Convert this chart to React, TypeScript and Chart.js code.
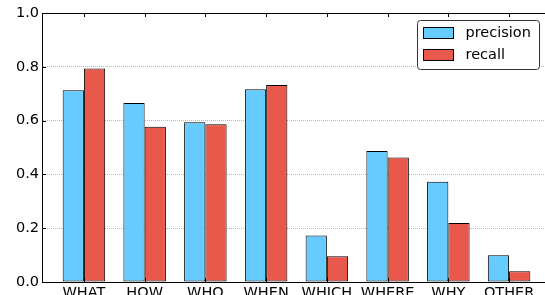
import React, { useEffect, useRef } from 'react';
import { Chart, registerables } from 'chart.js';

Chart.register(...registerables);

const categories = ['WHAT', 'HOW', 'WHO', 'WHEN', 'WHICH', 'WHERE', 'WHY', 'OTHER'];
const precision = [0.713, 0.665, 0.594, 0.717, 0.173, 0.487, 0.373, 0.099];
const recall = [0.794, 0.577, 0.586, 0.732, 0.096, 0.463, 0.219, 0.040];
const yTicks = [0, 0.2, 0.4, 0.6, 0.8, 1.0];

const FONT = 'DejaVu Sans';
const FS = 14.5;

const framePlugin = {
  id: 'frame',
  afterDatasetsDraw(chart: any) {
    const { ctx, chartArea } = chart;
    const { left, right, top, bottom } = chartArea;
    const x = chart.scales.x;
    const y = chart.scales.y;
    ctx.save();
    ctx.strokeStyle = '#000';
    ctx.lineWidth = 1;
    ctx.beginPath();
    ctx.moveTo(left, Math.round(top) + 0.5);
    ctx.lineTo(right, Math.round(top) + 0.5);
    y.ticks.forEach((t: any) => {
      const py = Math.round(y.getPixelForValue(t.value)) + 0.5;
      ctx.moveTo(left, py);
      ctx.lineTo(left + 4, py);
    });
    x.ticks.forEach((t: any) => {
      if (!Number.isInteger(t.value)) return;
      const px = Math.round(x.getPixelForValue(t.value)) + 0.5;
      ctx.moveTo(px, top);
      ctx.lineTo(px, top + 4);
      ctx.moveTo(px, bottom);
      ctx.lineTo(px, bottom - 4);
    });
    ctx.stroke();
    ctx.restore();
  },
};

const legendPlugin = {
  id: 'boxLegend',
  afterDraw(chart: any) {
    const { ctx, chartArea } = chart;
    const w = 122;
    const h = 49;
    const x0 = Math.round(chartArea.right - 12 - w) + 0.5;
    const y0 = Math.round(chartArea.top + 7) + 0.5;
    ctx.save();
    ctx.fillStyle = '#fff';
    ctx.strokeStyle = '#333';
    ctx.lineWidth = 1;
    ctx.beginPath();
    ctx.roundRect(x0, y0, w, h, 3);
    ctx.fill();
    ctx.stroke();
    chart.data.datasets.forEach((ds: any, i: number) => {
      const sy = y0 + 7 + i * 22;
      ctx.fillStyle = ds.backgroundColor;
      ctx.fillRect(x0 + 6, sy, 30, 11);
      ctx.strokeStyle = '#000';
      ctx.strokeRect(x0 + 6, sy, 30, 11);
      ctx.fillStyle = '#000';
      ctx.font = `${FS}px "${FONT}"`;
      ctx.textBaseline = 'middle';
      ctx.textAlign = 'left';
      ctx.fillText(ds.label, x0 + 48, sy + 5.5);
    });
    ctx.restore();
  },
};

export default function App() {
  const ref = useRef<HTMLCanvasElement>(null);
  useEffect(() => {
    if (!ref.current) return;
    const chart = new Chart(ref.current, {
      type: 'bar',
      data: {
        datasets: [
          {
            label: 'precision',
            data: precision.map((v, i) => ({ x: i, y: v })),
            backgroundColor: '#66ccff',
            borderColor: '#000',
            borderWidth: 1,
            borderSkipped: false,
          },
          {
            label: 'recall',
            data: recall.map((v, i) => ({ x: i, y: v })),
            backgroundColor: '#e8594b',
            borderColor: '#000',
            borderWidth: 1,
            borderSkipped: false,
          },
        ],
      } as any,
      options: {
        responsive: false,
        animation: false,
        devicePixelRatio: 1,
        categoryPercentage: 0.7,
        barPercentage: 1,
        layout: { padding: { left: 0, right: 0, top: 13, bottom: 0 } },
        plugins: {
          legend: { display: false },
          tooltip: { enabled: false },
        },
        scales: {
          x: {
            type: 'linear',
            min: -0.69,
            max: 7.69,
            offset: false,
            afterFit: (s: any) => {
              s.height = 38;
            },
            grid: { display: false, drawTicks: false, offset: false },
            border: { display: true, color: '#000', width: 1 },
            ticks: {
              stepSize: 1,
              includeBounds: false,
              autoSkip: false,
              maxRotation: 0,
              padding: 3,
              color: '#000',
              font: { family: FONT, size: FS },
              callback: (v: any) => (Number.isInteger(v) ? categories[v] ?? '' : ''),
            },
          },
          y: {
            type: 'linear',
            min: 0,
            max: 1,
            afterFit: (s: any) => {
              s.width = 42;
            },
            afterBuildTicks: (s: any) => {
              s.ticks = yTicks.map((v) => ({ value: v }));
            },
            grid: {
              drawTicks: false,
              lineWidth: 1,
              color: (c: any) =>
                c.tick && c.tick.value > 0.01 && c.tick.value < 0.99 ? '#b8b8b8' : 'rgba(0,0,0,0)',
              borderDash: [1, 1],
            } as any,
            border: { display: true, color: '#000', width: 1, dash: [1, 1] },
            ticks: {
              padding: 3,
              color: '#000',
              font: { family: FONT, size: FS },
              callback: (v: any) => Number(v).toFixed(1),
            },
          },
        },
      } as any,
      plugins: [framePlugin, legendPlugin],
    });
    return () => chart.destroy();
  }, []);
  return (
    <div
      style={{
        position: 'fixed',
        left: 0,
        top: 0,
        width: 545,
        height: 295,
        overflow: 'hidden',
        background: '#fff',
      }}
    >
      <canvas ref={ref} width={551} height={320} style={{ display: 'block' }} />
    </div>
  );
}
